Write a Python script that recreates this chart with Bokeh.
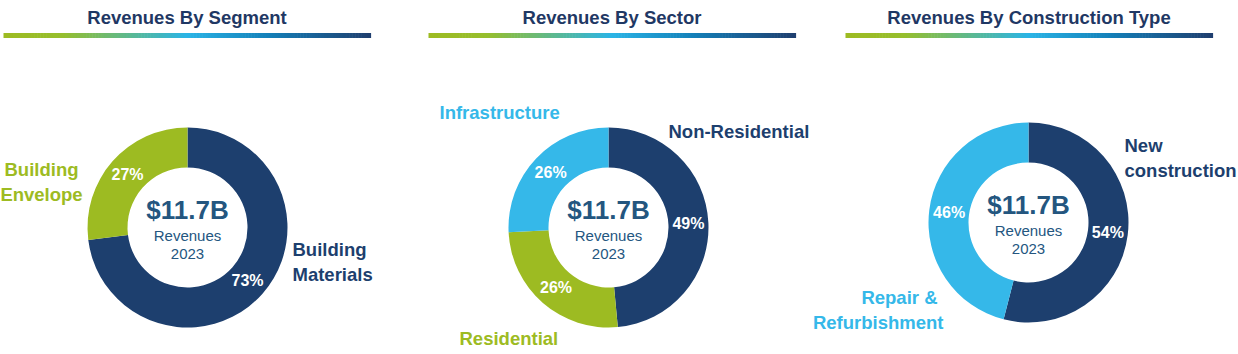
import math
from bokeh.plotting import figure
from bokeh.models import Range1d, ColumnDataSource
from bokeh.core.properties import value
from bokeh.embed import file_html
from bokeh.resources import INLINE

W, H = 1238, 354

# ---------------- data ----------------
titles = ["Revenues By Segment", "Revenues By Sector", "Revenues By Construction Type"]
seg_labels = ["Building Materials", "Building Envelope"]
seg_values = [73, 27]
sector_labels = ["Non-Residential", "Residential", "Infrastructure"]
sector_values = [49, 26, 26]
ctype_labels = ["New construction", "Repair & Refurbishment"]
ctype_values = [54, 46]
total_label = "$11.7B"
sub_label = "Revenues"
year_label = "2023"

# ---------------- style ----------------
NAVY = "#1d3f6e"
GREEN = "#9dbb22"
LBLUE = "#35b8e9"
TITLE_C = "#1f3864"
CENTER_C = "#24567f"
FONT = value("Liberation Sans")

seg_colors = [NAVY, GREEN]
sector_colors = [NAVY, GREEN, LBLUE]
ctype_colors = [NAVY, LBLUE]

# layout (pixel coordinates, y down)
centers = [(187, 227), (608, 227), (1028, 222)]
bars = [(3, 370), (428, 795), (845, 1212)]
R_IN, R_OUT, R_LBL = 60, 100, 80

# category label placements: (lines, x, y_first_line, align, color)
cat_layout = [
    [(["Building", "Materials"], 292, 249, "left", NAVY),
     (["Building", "Envelope"], 41, 169, "center", GREEN)],
    [(["Non-Residential"], 668, 131, "left", NAVY),
     (["Residential"], 459, 338, "left", GREEN),
     (["Infrastructure"], 439, 112, "left", LBLUE)],
    [(["New", "construction"], 1124, 145, "left", NAVY),
     (["Repair &", "Refurbishment"], [937, 943], 297, "right", LBLUE)],
]

def Y(py):
    return H - py

p = figure(width=W, height=H, x_range=Range1d(0, W), y_range=Range1d(0, H),
           x_axis_type=None, y_axis_type=None, min_border=0,
           toolbar_location=None, output_backend="svg")
p.grid.visible = False
p.outline_line_color = None
p.background_fill_color = "white"

# gradient bars under titles
stops = [(0.0, (157, 187, 34)), (0.16, (150, 190, 45)), (0.5, (42, 180, 230)),
         (0.72, (20, 128, 185)), (1.0, (31, 62, 110))]

def grad(t):
    for (t0, c0), (t1, c1) in zip(stops[:-1], stops[1:]):
        if t0 <= t <= t1:
            f = (t - t0) / (t1 - t0)
            return "#%02x%02x%02x" % tuple(int(round(a + (b - a) * f)) for a, b in zip(c0, c1))
    return "#%02x%02x%02x" % stops[-1][1]

N = 120
for (x0, x1), title in zip(bars, titles):
    lefts = [x0 + (x1 - x0) * i / N for i in range(N)]
    rights = [x0 + (x1 - x0) * (i + 1) / N + 0.6 for i in range(N)]
    cols = [grad((i + 0.5) / N) for i in range(N)]
    p.quad(left=lefts, right=rights, bottom=Y(37.5), top=Y(32.5), fill_color=cols, line_color=None)
    p.text(x=[(x0 + x1) / 2], y=[Y(16.5)], text=[title], text_font=FONT,
           text_font_style="bold", text_font_size="18.5px", text_color=TITLE_C,
           text_align="center", text_baseline="middle")

all_values = [seg_values, sector_values, ctype_values]
all_colors = [seg_colors, sector_colors, ctype_colors]

for vals, cols, (cx, cy), layout in zip(all_values, all_colors, centers, cat_layout):
    tot = float(sum(vals))
    starts, ends, lx, ly, txt = [], [], [], [], []
    cum = 0.0
    for v in vals:
        a = cum / tot
        b = (cum + v) / tot
        starts.append(math.pi / 2 - 2 * math.pi * b)
        ends.append(math.pi / 2 - 2 * math.pi * a)
        m = (a + b) / 2
        ang = math.pi / 2 - 2 * math.pi * m
        lx.append(cx + R_LBL * math.cos(ang))
        ly.append(Y(cy) + R_LBL * math.sin(ang))
        txt.append("%d%%" % v)
        cum += v
    src = ColumnDataSource(dict(start=starts, end=ends, color=cols))
    p.annular_wedge(x=cx, y=Y(cy), inner_radius=R_IN, outer_radius=R_OUT,
                    inner_radius_units="screen", outer_radius_units="screen",
                    start_angle="start", end_angle="end", fill_color="color",
                    line_color=None, direction="anticlock", source=src)
    p.text(x=lx, y=ly, text=txt, text_font=FONT, text_font_style="bold",
           text_font_size="16px", text_color="white", text_align="center",
           text_baseline="middle")
    # center text
    p.text(x=[cx], y=[Y(cy - 18)], text=[total_label], text_font=FONT,
           text_font_style="bold", text_font_size="26px", text_color=CENTER_C,
           text_align="center", text_baseline="middle")
    p.text(x=[cx, cx], y=[Y(cy + 8), Y(cy + 26)], text=[sub_label, year_label],
           text_font=FONT, text_font_size="15px", text_color=CENTER_C,
           text_align="center", text_baseline="middle")
    # category labels
    for lines, x, y0, align, color in layout:
        xs = x if isinstance(x, list) else [x] * len(lines)
        p.text(x=xs, y=[Y(y0 + 25 * i) for i in range(len(lines))], text=lines,
               text_font=FONT, text_font_style="bold", text_font_size="18.5px",
               text_color=color, text_align=align, text_baseline="middle")

open("out.html", "w").write(file_html(p, INLINE))
